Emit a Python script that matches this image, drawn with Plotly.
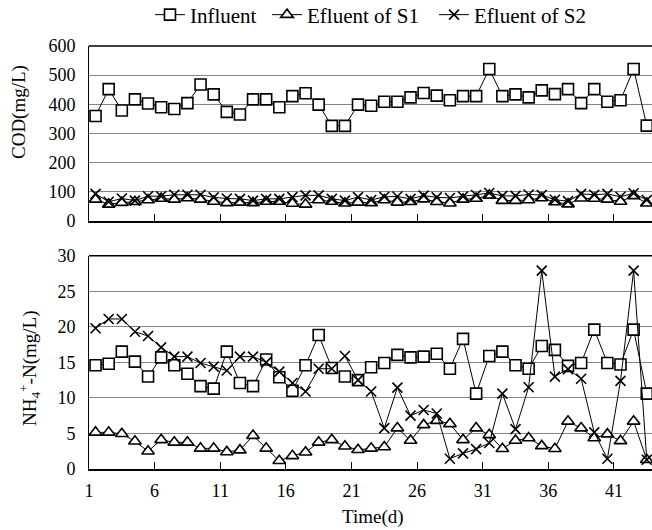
import plotly.graph_objects as go
from plotly.subplots import make_subplots

days = list(range(1, 44))

cod_influent = [360, 452, 379, 417, 403, 390, 384, 404, 468, 434,
                374, 365, 417, 417, 390, 428, 438, 399, 326, 326,
                399, 395, 409, 409, 424, 439, 430, 414, 428, 428,
                521, 428, 434, 424, 448, 435, 452, 404, 452, 409,
                414, 521, 327]
cod_s1 = [74, 57, 63, 66, 72, 77, 74, 79, 74, 67,
          62, 64, 62, 67, 67, 60, 57, 72, 67, 61,
          64, 62, 72, 64, 66, 75, 66, 61, 74, 77,
          88, 70, 70, 72, 79, 65, 58, 78, 77, 74,
          67, 86, 61]
cod_s2 = [93, 66, 77, 70, 85, 85, 90, 90, 90, 81,
          77, 76, 70, 76, 76, 82, 88, 88, 76, 70,
          82, 72, 83, 84, 76, 87, 81, 79, 84, 89,
          96, 86, 86, 91, 89, 73, 68, 93, 90, 93,
          83, 95, 72]

nh4_influent = [14.6, 14.8, 16.5, 15.1, 13.0, 15.7, 14.6, 13.4, 11.65, 11.3,
                16.5, 12.1, 11.65, 15.4, 12.9, 11.0, 14.6, 18.85, 14.2, 13.0,
                12.5, 14.3, 14.9, 16.05, 15.7, 15.8, 16.2, 14.1, 18.3, 10.6,
                15.9, 16.5, 14.6, 14.1, 17.3, 16.75, 14.5, 14.9, 19.6, 14.9,
                14.7, 19.6, 10.6]
nh4_s1 = [5.15, 5.15, 4.95, 3.9, 2.5, 4.1, 3.75, 3.75, 2.9, 2.9,
          2.4, 2.65, 4.7, 2.9, 1.15, 1.85, 2.35, 3.75, 4.1, 3.2,
          2.7, 2.9, 3.1, 5.75, 4.0, 6.2, 6.8, 6.35, 4.1, 5.75,
          4.8, 2.85, 4.0, 4.35, 3.25, 2.85, 6.7, 5.75, 4.35, 4.9,
          3.95, 6.7, 1.3]
nh4_s2 = [19.8, 21.1, 21.1, 19.3, 18.7, 17.1, 15.8, 15.8, 14.9, 14.4,
          13.85, 15.8, 15.8, 15.0, 13.7, 12.1, 10.9, 14.1, 14.1, 15.9,
          12.5, 10.9, 5.75, 11.45, 7.5, 8.3, 7.8, 1.45, 2.2, 2.8,
          3.65, 10.6, 5.6, 11.5, 27.9, 13.0, 14.05, 12.7, 5.15, 1.45,
          12.4, 27.9, 1.3]

series_names = ["Influent", "Efluent of S1", "Efluent of S2"]
tick_days = [1, 6, 11, 16, 21, 26, 31, 36, 41]

FONT = "Liberation Serif, Times New Roman, serif"

styles = [
    dict(symbol="square", size=11, color="white", line=dict(color="black", width=1.6)),
    dict(symbol="triangle-up", size=11, color="white", line=dict(color="black", width=1.6)),
    dict(symbol="x-thin", size=10, color="black", line=dict(color="black", width=1.6)),
]
legend_ids = ["legend", "legend2", "legend3"]
legend_x = [0.1083, 0.3162, 0.6128]

fig = make_subplots(rows=2, cols=1, shared_xaxes=False, vertical_spacing=0.08)

for i, (name, ys) in enumerate(zip(series_names, [cod_influent, cod_s1, cod_s2])):
    fig.add_trace(go.Scatter(x=days, y=ys, name=name, mode="lines+markers",
                             line=dict(color="black", width=1), marker=styles[i],
                             showlegend=True, legend=legend_ids[i]), row=1, col=1)
for i, (name, ys) in enumerate(zip(series_names, [nh4_influent, nh4_s1, nh4_s2])):
    fig.add_trace(go.Scatter(x=days, y=ys, name=name, mode="lines+markers",
                             line=dict(color="black", width=1), marker=styles[i],
                             showlegend=False), row=2, col=1)

xcommon = dict(range=[0.5, 43.4], tickmode="array",
               tickvals=[d - 0.5 for d in tick_days],
               ticktext=[str(d) for d in tick_days],
               ticks="inside", ticklen=7, tickwidth=1, tickcolor="black",
               showline=True, linecolor="black", linewidth=2,
               showgrid=False, zeroline=False, ticklabelstandoff=4,
               tickfont=dict(family=FONT, size=18, color="black"))

fig.update_xaxes(**xcommon)
fig.update_xaxes(showticklabels=False, row=1, col=1)

ycommon = dict(showline=True, linecolor="black", linewidth=1, mirror=False,
               showgrid=True, gridcolor="#858585", gridwidth=1.2,
               zeroline=False, ticks="", ticklabelstandoff=9,
               tickfont=dict(family=FONT, size=18, color="black"))
fig.update_yaxes(**ycommon)
fig.update_yaxes(range=[0, 600], dtick=100, domain=[0.5863, 1.0], row=1, col=1)
fig.update_yaxes(range=[0, 30], dtick=5, domain=[0.0, 0.5043], row=2, col=1)
fig.update_xaxes(domain=[0, 1])

# top frame lines
fig.add_shape(type="line", xref="x domain", yref="y domain", x0=0, x1=1, y0=1, y1=1,
              line=dict(color="black", width=1.5))
fig.add_shape(type="line", xref="x2 domain", yref="y2 domain", x0=0, x1=1, y0=1, y1=1,
              line=dict(color="black", width=1.5))

fig.add_annotation(text="COD(mg/L)", xref="paper", yref="paper", x=-0.1243, y=0.844,
                   textangle=-90, showarrow=False, xanchor="center", yanchor="middle",
                   font=dict(family=FONT, size=19, color="black"))
fig.add_annotation(text="NH<sub>4</sub><sup>+</sup>-N(mg/L)", xref="paper", yref="paper",
                   x=-0.1048, y=0.2388, textangle=-90, showarrow=False,
                   xanchor="center", yanchor="middle",
                   font=dict(family=FONT, size=19, color="black"))
fig.add_annotation(text="Time(d)", xref="paper", yref="paper", x=0.505, y=-0.113,
                   showarrow=False, xanchor="center", yanchor="middle",
                   font=dict(family=FONT, size=19, color="black"))

leg_common = dict(orientation="h", y=1.0733, xanchor="left", yanchor="middle",
                  font=dict(family=FONT, size=21, color="black"),
                  itemwidth=30, bgcolor="rgba(0,0,0,0)", borderwidth=0)

fig.update_layout(
    width=652, height=530,
    margin=dict(l=89, r=0, t=46, b=61, autoexpand=False),
    paper_bgcolor="white", plot_bgcolor="white",
    legend=dict(x=legend_x[0], **leg_common),
    legend2=dict(x=legend_x[1], **leg_common),
    legend3=dict(x=legend_x[2], **leg_common),
    font=dict(family=FONT, color="black"),
)

fig.write_html("out.html", config={"displayModeBar": False},
               post_script="document.body.style.margin='0';document.body.style.overflow='hidden';")
